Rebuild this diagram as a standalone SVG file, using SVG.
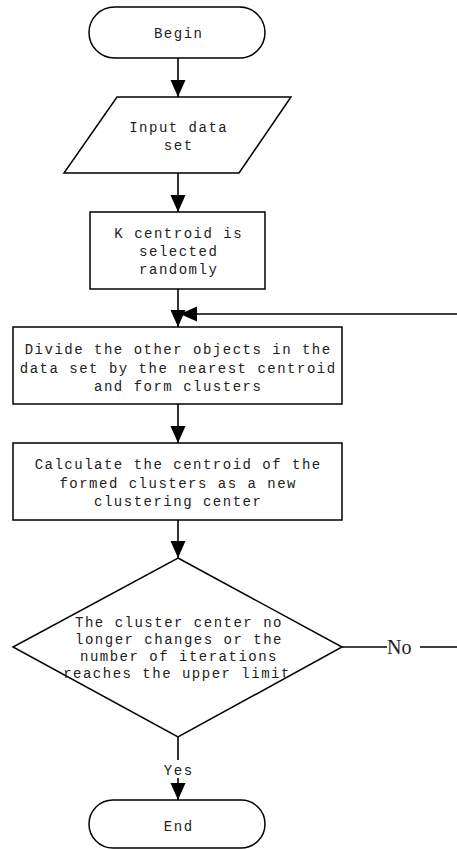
<svg xmlns="http://www.w3.org/2000/svg" width="457" height="849" viewBox="0 0 457 849">
<style>
.shape{fill:#fff;stroke:#000;stroke-width:1.5}
.t{font-family:"Liberation Mono",monospace;font-size:14px;letter-spacing:1.5px;text-anchor:middle;fill:#222}
.c{fill:none;stroke:#000;stroke-width:1.6}
.lbl{font-family:"Liberation Serif",serif;font-size:20px;fill:#222}
</style>
<defs>
<marker id="ah" markerUnits="userSpaceOnUse" markerWidth="18" markerHeight="16" refX="17" refY="7.5" orient="auto">
<path d="M0,0 L17,7.5 L0,15 Z" fill="#000"/>
</marker>
</defs>
<rect width="457" height="849" fill="#fff"/>
<g id="connectors">
<line class="c" x1="178" y1="58" x2="178" y2="97" marker-end="url(#ah)"/>
<line class="c" x1="178" y1="173" x2="178" y2="212" marker-end="url(#ah)"/>
<line class="c" x1="178" y1="289" x2="178" y2="327" marker-end="url(#ah)"/>
<line class="c" x1="178" y1="404" x2="178" y2="443" marker-end="url(#ah)"/>
<line class="c" x1="178" y1="520" x2="178" y2="558" marker-end="url(#ah)"/>
<line class="c" x1="178" y1="737" x2="178" y2="760"/>
<line class="c" x1="178" y1="778" x2="178" y2="800" marker-end="url(#ah)"/>
<text class="t" x="178.7" y="775">Yes</text>
<line class="c" x1="342" y1="647" x2="387" y2="647"/>
<text class="lbl" x="387" y="654">No</text>
<path class="c" d="M420,647 L460,647 L460,314 L180,314" marker-end="url(#ah)"/>
</g>
<g id="begin">
<rect class="shape" x="89" y="7" width="176" height="51" rx="25.5"/>
<text class="t" x="178.7" y="38">Begin</text>
</g>
<g id="input">
<polygon class="shape" points="117,97 291,97 239,173 64,173"/>
<text class="t" x="178.7" y="132">Input data</text>
<text class="t" x="178.7" y="150">set</text>
</g>
<g id="kcentroid">
<rect class="shape" x="90" y="212" width="175" height="77"/>
<text class="t" x="178.7" y="238">K centroid is</text>
<text class="t" x="178.7" y="256">selected</text>
<text class="t" x="178.7" y="274">randomly</text>
</g>
<g id="divide">
<rect class="shape" x="13" y="327" width="329" height="77"/>
<text class="t" x="178.2" y="354">Divide the other objects in the</text>
<text class="t" x="178.2" y="373">data set by the nearest centroid</text>
<text class="t" x="178.2" y="391">and form clusters</text>
</g>
<g id="calculate">
<rect class="shape" x="13" y="443" width="329" height="77"/>
<text class="t" x="178.2" y="469">Calculate the centroid of the</text>
<text class="t" x="178.2" y="488">formed clusters as a new</text>
<text class="t" x="178.2" y="506">clustering center</text>
</g>
<g id="decision">
<polygon class="shape" points="178,558 342,647 178,737 13,647"/>
<text class="t" x="179" y="627">The cluster center no</text>
<text class="t" x="179" y="644">longer changes or the</text>
<text class="t" x="179" y="661">number of iterations</text>
<text class="t" x="177" y="678">reaches the upper limit</text>
</g>
<g id="end">
<rect class="shape" x="89" y="800" width="176" height="48" rx="24"/>
<text class="t" x="178.7" y="831">End</text>
</g>
</svg>
